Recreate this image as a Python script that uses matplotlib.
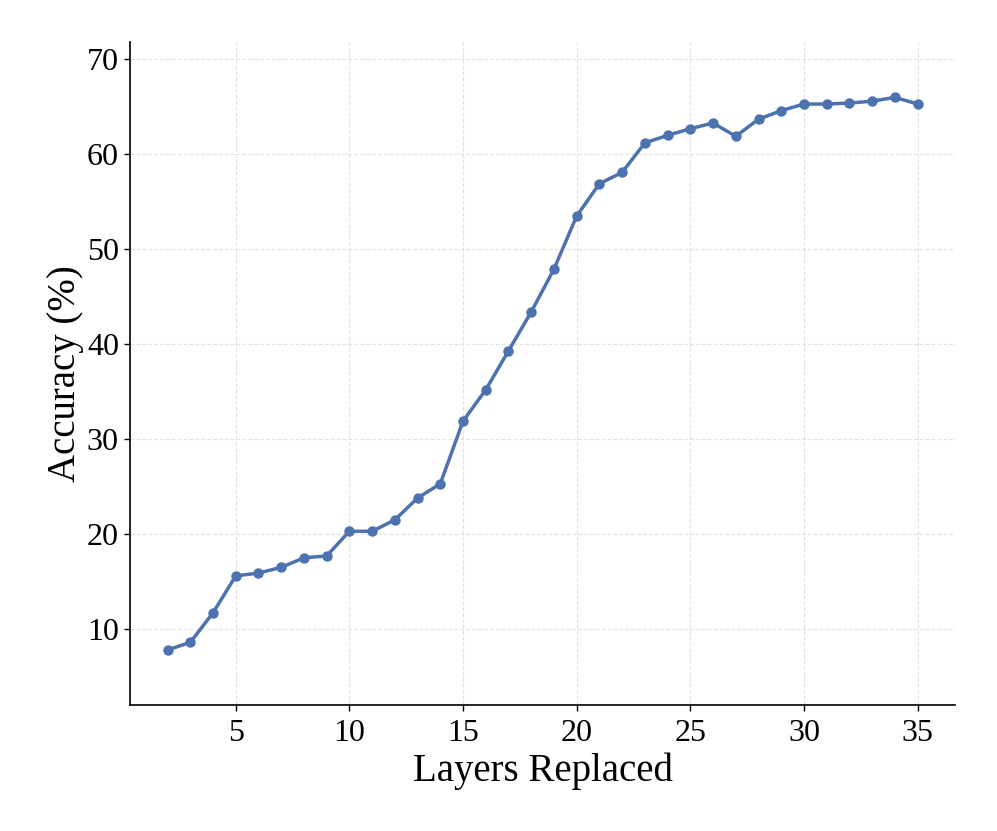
import matplotlib
matplotlib.use("Agg")
import matplotlib.pyplot as plt

plt.rcParams["font.family"] = ["Liberation Serif", "DejaVu Serif"]

layers = list(range(2, 36))
accuracy = [7.8, 8.6, 11.7, 15.6, 15.9, 16.5, 17.5, 17.7, 20.3, 20.3,
            21.5, 23.8, 25.3, 31.9, 35.2, 39.3, 43.4, 47.9, 53.5, 56.9,
            58.1, 61.2, 62.0, 62.7, 63.3, 61.9, 63.7, 64.6, 65.3, 65.3,
            65.4, 65.6, 66.0, 65.3]

fig = plt.figure(figsize=(9.97, 8.31), dpi=100)
ax = fig.add_axes([0.1304, 0.1516, 0.8276, 0.7975])

ax.plot(layers, accuracy, "-o", color="#4c72b0", lw=2.5, ms=6.5, zorder=3)

ax.set_xlim(0.35, 36.65)
ax.set_ylim(2, 71.8)
ax.set_xticks([5, 10, 15, 20, 25, 30, 35])
ax.set_yticks([10, 20, 30, 40, 50, 60, 70])
ax.grid(True, linestyle="--", color="#dddddd", lw=0.8, alpha=0.8)
ax.set_axisbelow(True)
for s in ("top", "right"):
    ax.spines[s].set_visible(False)
for s in ("left", "bottom"):
    ax.spines[s].set_linewidth(1.2)
ax.tick_params(labelsize=23, length=4, width=1)
ax.tick_params(axis="x", pad=6)
ax.tick_params(axis="y", pad=4)
ax.set_xlabel("Layers Replaced", fontsize=28, labelpad=3)
ax.set_ylabel("Accuracy (%)", fontsize=28, labelpad=2)

fig.savefig("out.png", dpi=100)
